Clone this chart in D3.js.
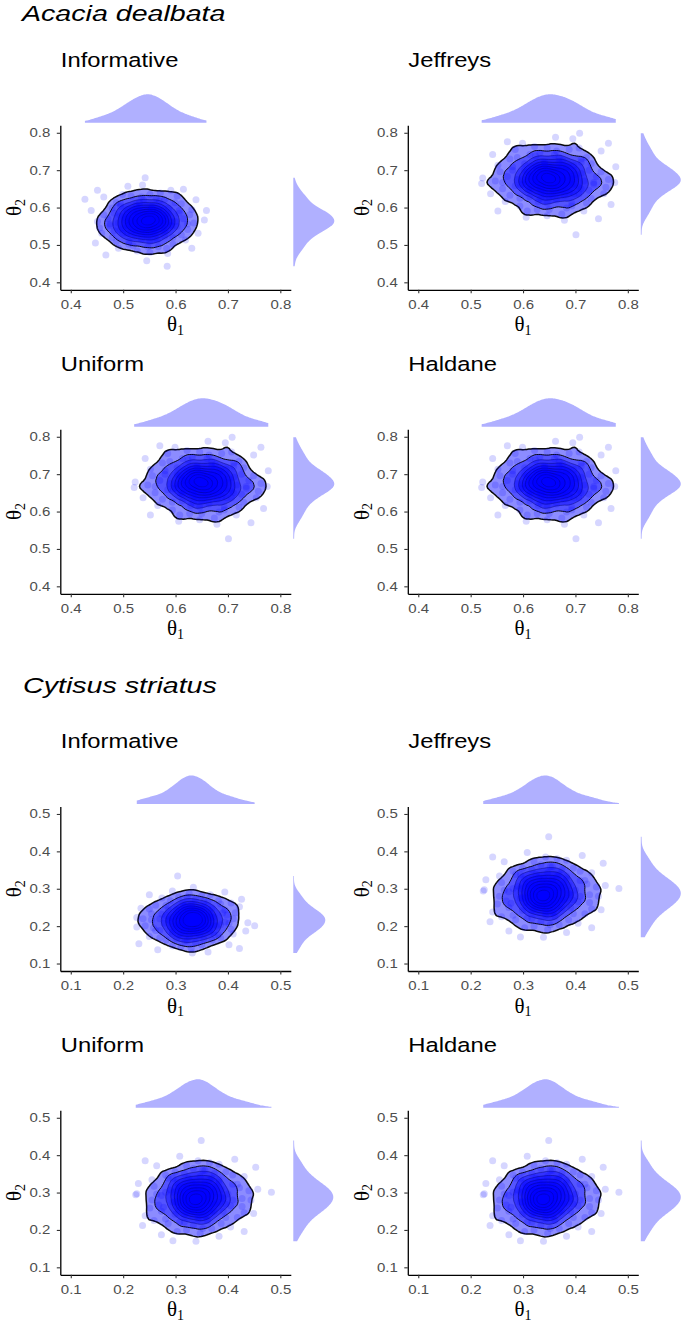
<!DOCTYPE html>
<html>
<head>
<meta charset="utf-8">
<script src="https://cdn.jsdelivr.net/npm/d3@7"></script>
<style>
  body { margin: 0; background: #fff; }
  svg { display: block; }
</style>
</head>
<body>
<svg id="chart" width="685" height="1323"></svg>
<script>
// posterior draws [theta1, theta2], estimated from the scatter clouds
const acaciaInformative = [
  [0.547,0.552],[0.523,0.577],[0.575,0.570],[0.495,0.541],[0.555,0.603],
  [0.603,0.549],[0.535,0.516],[0.567,0.588],[0.507,0.595],[0.627,0.581],
  [0.471,0.570],[0.543,0.563],[0.559,0.534],[0.519,0.559],[0.587,0.599],
  [0.487,0.613],[0.551,0.635],[0.531,0.585],[0.579,0.523],[0.455,0.545],
  [0.611,0.610],[0.511,0.509],[0.563,0.567],[0.539,0.621],[0.595,0.502],
  [0.479,0.520],[0.571,0.556],[0.527,0.538],[0.643,0.531],[0.439,0.592],
  [0.551,0.480],[0.583,0.581],[0.503,0.574],[0.557,0.576],[0.515,0.631],
  [0.619,0.513],[0.491,0.491],[0.565,0.513],[0.537,0.660],[0.655,0.567],
  [0.545,0.458],[0.591,0.646],[0.463,0.628],[0.555,0.595],[0.507,0.552],
  [0.599,0.563],[0.533,0.547],[0.569,0.617],[0.483,0.585],[0.607,0.592],
  [0.499,0.531],[0.543,0.527],[0.581,0.541],[0.525,0.606],[0.631,0.491],
  [0.447,0.505],[0.549,0.583],[0.513,0.565],[0.593,0.550],[0.541,0.558],
  [0.659,0.592],[0.427,0.622],[0.542,0.680],[0.584,0.443],[0.615,0.649],
  [0.467,0.473],[0.639,0.621],[0.451,0.646],[0.577,0.594],[0.519,0.590],
  [0.561,0.545],[0.495,0.603],[0.585,0.477],[0.529,0.570],[0.553,0.561],
  [0.567,0.495],[0.475,0.552],[0.623,0.556],[0.509,0.657],[0.603,0.631],
  [0.551,0.567],[0.531,0.556],[0.563,0.549],[0.519,0.581],[0.547,0.588],
  [0.539,0.541],[0.575,0.577],[0.511,0.552],[0.555,0.531],[0.527,0.595],
  [0.583,0.559],[0.503,0.567],[0.543,0.574],[0.559,0.570],[0.535,0.577],
  [0.567,0.595],[0.515,0.534],[0.579,0.538],[0.523,0.527],[0.551,0.556],
  [0.539,0.563],[0.571,0.563],[0.507,0.585],[0.547,0.523],[0.531,0.603],
  [0.587,0.585],[0.499,0.545],[0.559,0.581],[0.519,0.549],[0.543,0.549],
  [0.555,0.599],[0.535,0.531],[0.579,0.570],[0.511,0.570],[0.563,0.538],
  [0.527,0.559],[0.549,0.576],[0.537,0.550],[0.569,0.558],[0.517,0.594],
  [0.591,0.552],[0.495,0.577],[0.553,0.585],[0.529,0.583],[0.565,0.574],
  [0.521,0.541],[0.545,0.568],[0.577,0.547],[0.507,0.531],[0.561,0.520],
  [0.607,0.585],[0.483,0.538],[0.563,0.624],[0.519,0.498],[0.595,0.520],
  [0.495,0.610],[0.623,0.541],[0.463,0.581],[0.579,0.621],[0.511,0.502],
  [0.615,0.570],[0.475,0.556],[0.547,0.495],[0.535,0.628],[0.599,0.613],
  [0.487,0.509],[0.631,0.595],[0.459,0.531],[0.583,0.491],[0.499,0.635],
  [0.611,0.527],[0.479,0.599],[0.571,0.639],[0.527,0.484],[0.635,0.559],
  [0.451,0.563],[0.591,0.563],[0.531,0.613],[0.551,0.509],[0.491,0.559]
];
// Jeffreys, Uniform and Haldane give practically the same cloud
const acaciaFlat = [
  [0.650,0.662],[0.679,0.692],[0.617,0.683],[0.711,0.650],[0.641,0.721],
  [0.585,0.658],[0.664,0.620],[0.627,0.704],[0.697,0.713],[0.556,0.696],
  [0.740,0.683],[0.655,0.675],[0.636,0.641],[0.683,0.671],[0.603,0.717],
  [0.721,0.734],[0.646,0.759],[0.669,0.700],[0.613,0.629],[0.758,0.654],
  [0.575,0.730],[0.693,0.612],[0.632,0.679],[0.660,0.742],[0.594,0.604],
  [0.730,0.625],[0.622,0.667],[0.674,0.646],[0.538,0.637],[0.777,0.709],
  [0.646,0.578],[0.608,0.696],[0.702,0.688],[0.639,0.690],[0.688,0.755],
  [0.566,0.616],[0.716,0.591],[0.629,0.616],[0.662,0.788],[0.523,0.679],
  [0.679,0.566],[0.599,0.772],[0.749,0.751],[0.641,0.713],[0.697,0.662],
  [0.589,0.675],[0.667,0.656],[0.624,0.738],[0.726,0.700],[0.580,0.709],
  [0.707,0.637],[0.655,0.633],[0.610,0.650],[0.676,0.725],[0.552,0.591],
  [0.768,0.608],[0.648,0.698],[0.690,0.677],[0.596,0.660],[0.657,0.669],
  [0.521,0.664],[0.775,0.667],[0.708,0.799],[0.701,0.527],[0.570,0.776],
  [0.744,0.570],[0.542,0.742],[0.763,0.772],[0.615,0.711],[0.683,0.707],
  [0.634,0.654],[0.711,0.721],[0.606,0.574],[0.671,0.683],[0.643,0.673],
  [0.627,0.595],[0.735,0.662],[0.561,0.667],[0.695,0.784],[0.585,0.755],
  [0.646,0.679],[0.669,0.667],[0.632,0.658],[0.683,0.696],[0.650,0.704],
  [0.660,0.650],[0.617,0.692],[0.693,0.662],[0.641,0.637],[0.674,0.713],
  [0.608,0.671],[0.702,0.679],[0.655,0.688],[0.636,0.683],[0.664,0.692],
  [0.627,0.713],[0.688,0.641],[0.613,0.646],[0.679,0.633],[0.646,0.667],
  [0.660,0.675],[0.622,0.675],[0.697,0.700],[0.650,0.629],[0.669,0.721],
  [0.603,0.700],[0.707,0.654],[0.636,0.696],[0.683,0.658],[0.655,0.658],
  [0.641,0.717],[0.664,0.637],[0.613,0.683],[0.693,0.683],[0.632,0.646],
  [0.674,0.671],[0.648,0.690],[0.662,0.660],[0.624,0.669],[0.686,0.711],
  [0.599,0.662],[0.711,0.692],[0.643,0.700],[0.671,0.698],[0.629,0.688],
  [0.681,0.650],[0.653,0.681],[0.615,0.656],[0.697,0.637],[0.634,0.625],
  [0.580,0.700],[0.726,0.646],[0.632,0.746],[0.683,0.599],[0.594,0.625],
  [0.711,0.730],[0.561,0.650],[0.749,0.696],[0.613,0.742],[0.693,0.604],
  [0.570,0.683],[0.735,0.667],[0.650,0.595],[0.664,0.751],[0.589,0.734],
  [0.721,0.612],[0.552,0.713],[0.754,0.637],[0.608,0.591],[0.707,0.759],
  [0.575,0.633],[0.730,0.717],[0.622,0.763],[0.674,0.583],[0.547,0.671],
  [0.763,0.675],[0.599,0.675],[0.669,0.734],[0.646,0.612],[0.716,0.671]
];
const cytisusInformative = [
  [0.318,0.217],[0.346,0.198],[0.338,0.240],[0.306,0.176],[0.374,0.224],
  [0.314,0.262],[0.278,0.208],[0.358,0.233],[0.366,0.185],[0.350,0.281],
  [0.338,0.156],[0.330,0.214],[0.298,0.227],[0.326,0.195],[0.370,0.249],
  [0.386,0.169],[0.410,0.220],[0.354,0.204],[0.286,0.243],[0.310,0.144],
  [0.382,0.268],[0.270,0.188],[0.334,0.230],[0.394,0.211],[0.262,0.256],
  [0.282,0.163],[0.322,0.236],[0.302,0.201],[0.294,0.294],[0.362,0.131],
  [0.238,0.220],[0.350,0.246],[0.342,0.182],[0.344,0.225],[0.406,0.192],
  [0.274,0.275],[0.250,0.172],[0.274,0.232],[0.438,0.209],[0.334,0.304],
  [0.226,0.198],[0.422,0.252],[0.402,0.150],[0.366,0.224],[0.318,0.185],
  [0.330,0.259],[0.312,0.206],[0.390,0.235],[0.354,0.166],[0.362,0.265],
  [0.294,0.179],[0.290,0.214],[0.306,0.244],[0.378,0.200],[0.250,0.284],
  [0.266,0.137],[0.352,0.219],[0.332,0.190],[0.316,0.254],[0.324,0.212],
  [0.304,0.334],[0.332,0.128],[0.451,0.201],[0.226,0.223],[0.426,0.272],
  [0.230,0.153],[0.394,0.291],[0.422,0.140],[0.364,0.241],[0.360,0.195],
  [0.310,0.228],[0.374,0.176],[0.234,0.248],[0.338,0.203],[0.328,0.222],
  [0.254,0.233],[0.318,0.160],[0.322,0.278],[0.434,0.187],[0.406,0.262],
  [0.334,0.220],[0.322,0.204],[0.314,0.230],[0.350,0.195],[0.358,0.217],
  [0.306,0.211],[0.346,0.240],[0.318,0.188],[0.294,0.224],[0.366,0.201],
  [0.326,0.246],[0.334,0.182],[0.342,0.214],[0.338,0.227],[0.346,0.208],
  [0.366,0.233],[0.298,0.192],[0.302,0.243],[0.290,0.198],[0.322,0.220],
  [0.330,0.211],[0.330,0.236],[0.354,0.185],[0.286,0.217],[0.374,0.204],
  [0.354,0.249],[0.310,0.179],[0.350,0.227],[0.314,0.195],[0.314,0.214],
  [0.370,0.224],[0.294,0.208],[0.338,0.243],[0.338,0.188],[0.302,0.230],
  [0.326,0.201],[0.344,0.219],[0.316,0.209],[0.324,0.235],[0.364,0.193],
  [0.318,0.252],[0.346,0.176],[0.354,0.222],[0.352,0.203],[0.342,0.232],
  [0.306,0.196],[0.336,0.216],[0.312,0.241],[0.294,0.185],[0.282,0.228],
  [0.354,0.265],[0.302,0.166],[0.398,0.230],[0.258,0.195],[0.282,0.256],
  [0.382,0.176],[0.306,0.278],[0.350,0.150],[0.394,0.243],[0.262,0.188],
  [0.338,0.272],[0.322,0.160],[0.254,0.217],[0.402,0.208],[0.386,0.259],
  [0.270,0.169],[0.366,0.284],[0.294,0.147],[0.250,0.246],[0.410,0.179],
  [0.290,0.268],[0.370,0.163],[0.414,0.236],[0.242,0.201],[0.326,0.288],
  [0.330,0.140],[0.330,0.252],[0.386,0.204],[0.270,0.220],[0.326,0.172]
];
const cytisusFlat = [
  [0.356,0.284],[0.325,0.309],[0.334,0.254],[0.369,0.338],[0.295,0.275],
  [0.361,0.225],[0.400,0.296],[0.312,0.263],[0.303,0.326],[0.321,0.200],
  [0.334,0.364],[0.343,0.288],[0.378,0.271],[0.347,0.313],[0.299,0.242],
  [0.281,0.347],[0.255,0.280],[0.317,0.301],[0.391,0.250],[0.365,0.380],
  [0.286,0.217],[0.409,0.322],[0.339,0.267],[0.273,0.292],[0.418,0.233],
  [0.396,0.355],[0.352,0.259],[0.374,0.305],[0.383,0.183],[0.308,0.397],
  [0.444,0.280],[0.321,0.246],[0.330,0.330],[0.328,0.273],[0.259,0.317],
  [0.405,0.208],[0.431,0.343],[0.405,0.265],[0.224,0.294],[0.339,0.170],
  [0.457,0.309],[0.242,0.238],[0.264,0.372],[0.303,0.275],[0.356,0.326],
  [0.343,0.229],[0.363,0.299],[0.277,0.261],[0.317,0.351],[0.308,0.221],
  [0.383,0.334],[0.387,0.288],[0.369,0.248],[0.290,0.307],[0.431,0.196],
  [0.413,0.389],[0.319,0.282],[0.341,0.320],[0.358,0.236],[0.350,0.290],
  [0.295,0.171],[0.349,0.439],[0.226,0.297],[0.483,0.301],[0.237,0.212],
  [0.453,0.368],[0.273,0.187],[0.242,0.385],[0.306,0.252],[0.310,0.313],
  [0.365,0.269],[0.295,0.338],[0.449,0.244],[0.334,0.303],[0.345,0.278],
  [0.427,0.263],[0.356,0.359],[0.352,0.204],[0.229,0.324],[0.259,0.225],
  [0.339,0.280],[0.352,0.301],[0.361,0.267],[0.321,0.313],[0.312,0.284],
  [0.369,0.292],[0.325,0.254],[0.356,0.322],[0.383,0.275],[0.303,0.305],
  [0.347,0.246],[0.339,0.330],[0.330,0.288],[0.334,0.271],[0.325,0.296],
  [0.303,0.263],[0.378,0.317],[0.374,0.250],[0.387,0.309],[0.352,0.280],
  [0.343,0.292],[0.343,0.259],[0.317,0.326],[0.391,0.284],[0.295,0.301],
  [0.317,0.242],[0.365,0.334],[0.321,0.271],[0.361,0.313],[0.361,0.288],
  [0.299,0.275],[0.383,0.296],[0.334,0.250],[0.334,0.322],[0.374,0.267],
  [0.347,0.305],[0.328,0.282],[0.358,0.294],[0.350,0.261],[0.306,0.315],
  [0.356,0.238],[0.325,0.338],[0.317,0.278],[0.319,0.303],[0.330,0.265],
  [0.369,0.311],[0.336,0.286],[0.363,0.252],[0.383,0.326],[0.396,0.269],
  [0.317,0.221],[0.374,0.351],[0.268,0.267],[0.422,0.313],[0.396,0.233],
  [0.286,0.338],[0.369,0.204],[0.321,0.372],[0.273,0.250],[0.418,0.322],
  [0.334,0.212],[0.352,0.359],[0.427,0.284],[0.264,0.296],[0.281,0.229],
  [0.409,0.347],[0.303,0.196],[0.383,0.376],[0.431,0.246],[0.255,0.334],
  [0.387,0.217],[0.299,0.355],[0.251,0.259],[0.440,0.305],[0.347,0.191],
  [0.343,0.385],[0.343,0.238],[0.281,0.301],[0.409,0.280],[0.347,0.343]
];

const species = ['Acacia dealbata', 'Cytisus striatus'];
const priors = ['Informative', 'Jeffreys', 'Uniform', 'Haldane'];
const acaciaTicks = [0.4, 0.5, 0.6, 0.7, 0.8];
const cytisusTicks = [0.1, 0.2, 0.3, 0.4, 0.5];
// contour levels as a share of the peak density
const levelFractions = [0.14, 0.23, 0.32, 0.41, 0.5, 0.59, 0.68, 0.77, 0.86, 0.94];

const panels = [
  { data: acaciaInformative, ticks: acaciaTicks, side: 41 },
  { data: acaciaFlat, ticks: acaciaTicks, side: 40 },
  { data: acaciaFlat, ticks: acaciaTicks, side: 41 },
  { data: acaciaFlat, ticks: acaciaTicks, side: 40 },
  { data: cytisusInformative, ticks: cytisusTicks, side: 32 },
  { data: cytisusFlat, ticks: cytisusTicks, side: 40 },
  { data: cytisusFlat, ticks: cytisusTicks, side: 40 },
  { data: cytisusFlat, ticks: cytisusTicks, side: 40 }
];

const colX = [60.3, 407.8];
const rowY = [125.3, 429.3, 806.5, 1110.3];
const W = 230.5, H = 164.5;
const SANS = '"Liberation Sans", Arial, sans-serif';
const SERIF = '"Liberation Serif", "Times New Roman", serif';

const svg = d3.select('#chart');
svg.append('rect').attr('width', 685).attr('height', 1323).attr('fill', '#fff');

// text that is a bit wider than the font draws it
function label(parent, x, y, str, size, sx, opts = {}) {
  return parent.append('text')
    .attr('transform', `translate(${x},${y}) scale(${sx},1)`)
    .attr('font-family', SANS)
    .attr('font-size', size)
    .attr('font-style', opts.italic ? 'italic' : 'normal')
    .attr('fill', opts.fill || '#000')
    .text(str);
}

// species headings
label(svg, 22, 21, species[0], 22, 1.3, { italic: true });
label(svg, 23, 693, species[1], 22, 1.3, { italic: true });

function kde(vals) {
  const n = vals.length;
  const s = vals.slice().sort(d3.ascending);
  const iqr = d3.quantile(s, 0.75) - d3.quantile(s, 0.25);
  const bw = 1.1 * 0.9 * Math.min(d3.deviation(s), iqr / 1.34) * Math.pow(n, -0.2);
  const lo = s[0], hi = s[n - 1];
  return d3.range(0, 121).map(k => {
    const t = lo + (hi - lo) * k / 120;
    const d = d3.sum(s, v => Math.exp(-0.5 * ((t - v) / bw) ** 2)) / (n * bw * Math.sqrt(2 * Math.PI));
    return [t, d];
  });
}

// drop the tiny islands a lone point makes at the lowest levels
function mainRings(mp) {
  const kept = mp.coordinates.filter(poly => Math.abs(d3.polygonArea(poly[0])) > 90);
  return Object.assign({}, mp, { coordinates: kept });
}

panels.forEach((p, i) => {
  const col = i % 2, row = Math.floor(i / 2);
  const g = svg.append('g').attr('transform', `translate(${colX[col]},${rowY[row]})`);
  const dom = [p.ticks[0] - 0.02, p.ticks[p.ticks.length - 1] + 0.02];
  const x = d3.scaleLinear().domain(dom).range([0, W]);
  const y = d3.scaleLinear().domain(dom).range([H, 0]);

  // panel title
  label(g, 0.5, -58.5, priors[i % 4], 19.5, 1.22);

  // marginal densities
  const topD = kde(p.data.map(d => d[0]));
  const sideD = kde(p.data.map(d => d[1]));
  const th = d3.scaleLinear().domain([0, d3.max(topD, d => d[1])]).range([0, 28.5]);
  const sw = d3.scaleLinear().domain([0, d3.max(sideD, d => d[1])]).range([0, p.side]);
  g.append('path')
    .datum(topD)
    .attr('fill', '#b0b0ff')
    .attr('d', d3.area().x(d => x(d[0])).y0(-2.5).y1(d => -2.5 - th(d[1])).curve(d3.curveBasis));
  g.append('path')
    .datum(sideD)
    .attr('fill', '#b0b0ff')
    .attr('d', d3.area().y(d => y(d[0])).x0(W + 2.5).x1(d => W + 2.5 + sw(d[1])).curve(d3.curveBasis));

  // 2d density
  const dens = d3.contourDensity()
    .x(d => x(d[0]))
    .y(d => y(d[1]))
    .size([Math.ceil(W), Math.ceil(H)])
    .cellSize(2)
    .bandwidth(6.5);
  let polys;
  if (dens.contours) {
    const c = dens.contours(p.data);
    polys = levelFractions.map(f => c(f * c.max));
  } else {
    const mx = d3.max(dens.thresholds(200)(p.data), d => d.value);
    polys = dens.thresholds(levelFractions.map(f => f * mx))(p.data);
  }
  polys = polys.map(mainRings);
  const path = d3.geoPath();
  g.append('g').selectAll('path')
    .data(polys)
    .join('path')
    .attr('d', path)
    .attr('fill', '#0000ff')
    .attr('fill-opacity', (d, k) => k === 0 ? 0.45 : 0.4);
  g.append('g').selectAll('path')
    .data(polys)
    .join('path')
    .attr('d', path)
    .attr('fill', 'none')
    .attr('stroke', (d, k) => k < 2 ? '#000' : '#00006a')
    .attr('stroke-opacity', (d, k) => k < 2 ? 0.95 : 0.45)
    .attr('stroke-width', (d, k) => k === 0 ? 1.5 : 1);

  // points
  g.append('g').selectAll('circle')
    .data(p.data)
    .join('circle')
    .attr('cx', d => x(d[0]))
    .attr('cy', d => y(d[1]))
    .attr('r', 3.5)
    .attr('fill', '#0000ff')
    .attr('fill-opacity', 0.16);

  // axes
  const fmt = d3.format('.1f');
  const xa = g.append('g')
    .attr('transform', `translate(0,${H})`)
    .call(d3.axisBottom(x).tickValues(p.ticks).tickFormat(fmt).tickSize(3.5).tickSizeOuter(0).tickPadding(6.5));
  const ya = g.append('g')
    .call(d3.axisLeft(y).tickValues(p.ticks).tickFormat(fmt).tickSize(3.5).tickSizeOuter(0).tickPadding(6.5));
  [xa, ya].forEach(a => {
    a.select('.domain').attr('stroke', '#000').attr('stroke-width', 1.3);
    a.selectAll('.tick line').attr('stroke', '#333').attr('stroke-width', 1.1);
    a.selectAll('.tick text')
      .attr('fill', '#4d4d4d')
      .attr('font-family', SANS)
      .attr('font-size', 12.5);
  });
  xa.selectAll('.tick text').attr('transform', 'scale(1.2,1)');
  ya.selectAll('.tick text').attr('transform', 'scale(1.2,1)').attr('x', -10 / 1.2);

  // axis titles
  const xt = g.append('text')
    .attr('x', W / 2).attr('y', H + 41.5)
    .attr('text-anchor', 'middle')
    .attr('font-family', SERIF).attr('font-size', 21);
  xt.append('tspan').text('θ');
  xt.append('tspan').attr('font-size', 14).attr('dy', 3.5).text('1');
  const yt = g.append('text')
    .attr('transform', `translate(-39,${H / 2}) rotate(-90)`)
    .attr('text-anchor', 'middle')
    .attr('font-family', SERIF).attr('font-size', 21);
  yt.append('tspan').text('θ');
  yt.append('tspan').attr('font-size', 14).attr('dy', 3.5).text('2');
});
</script>
</body>
</html>
